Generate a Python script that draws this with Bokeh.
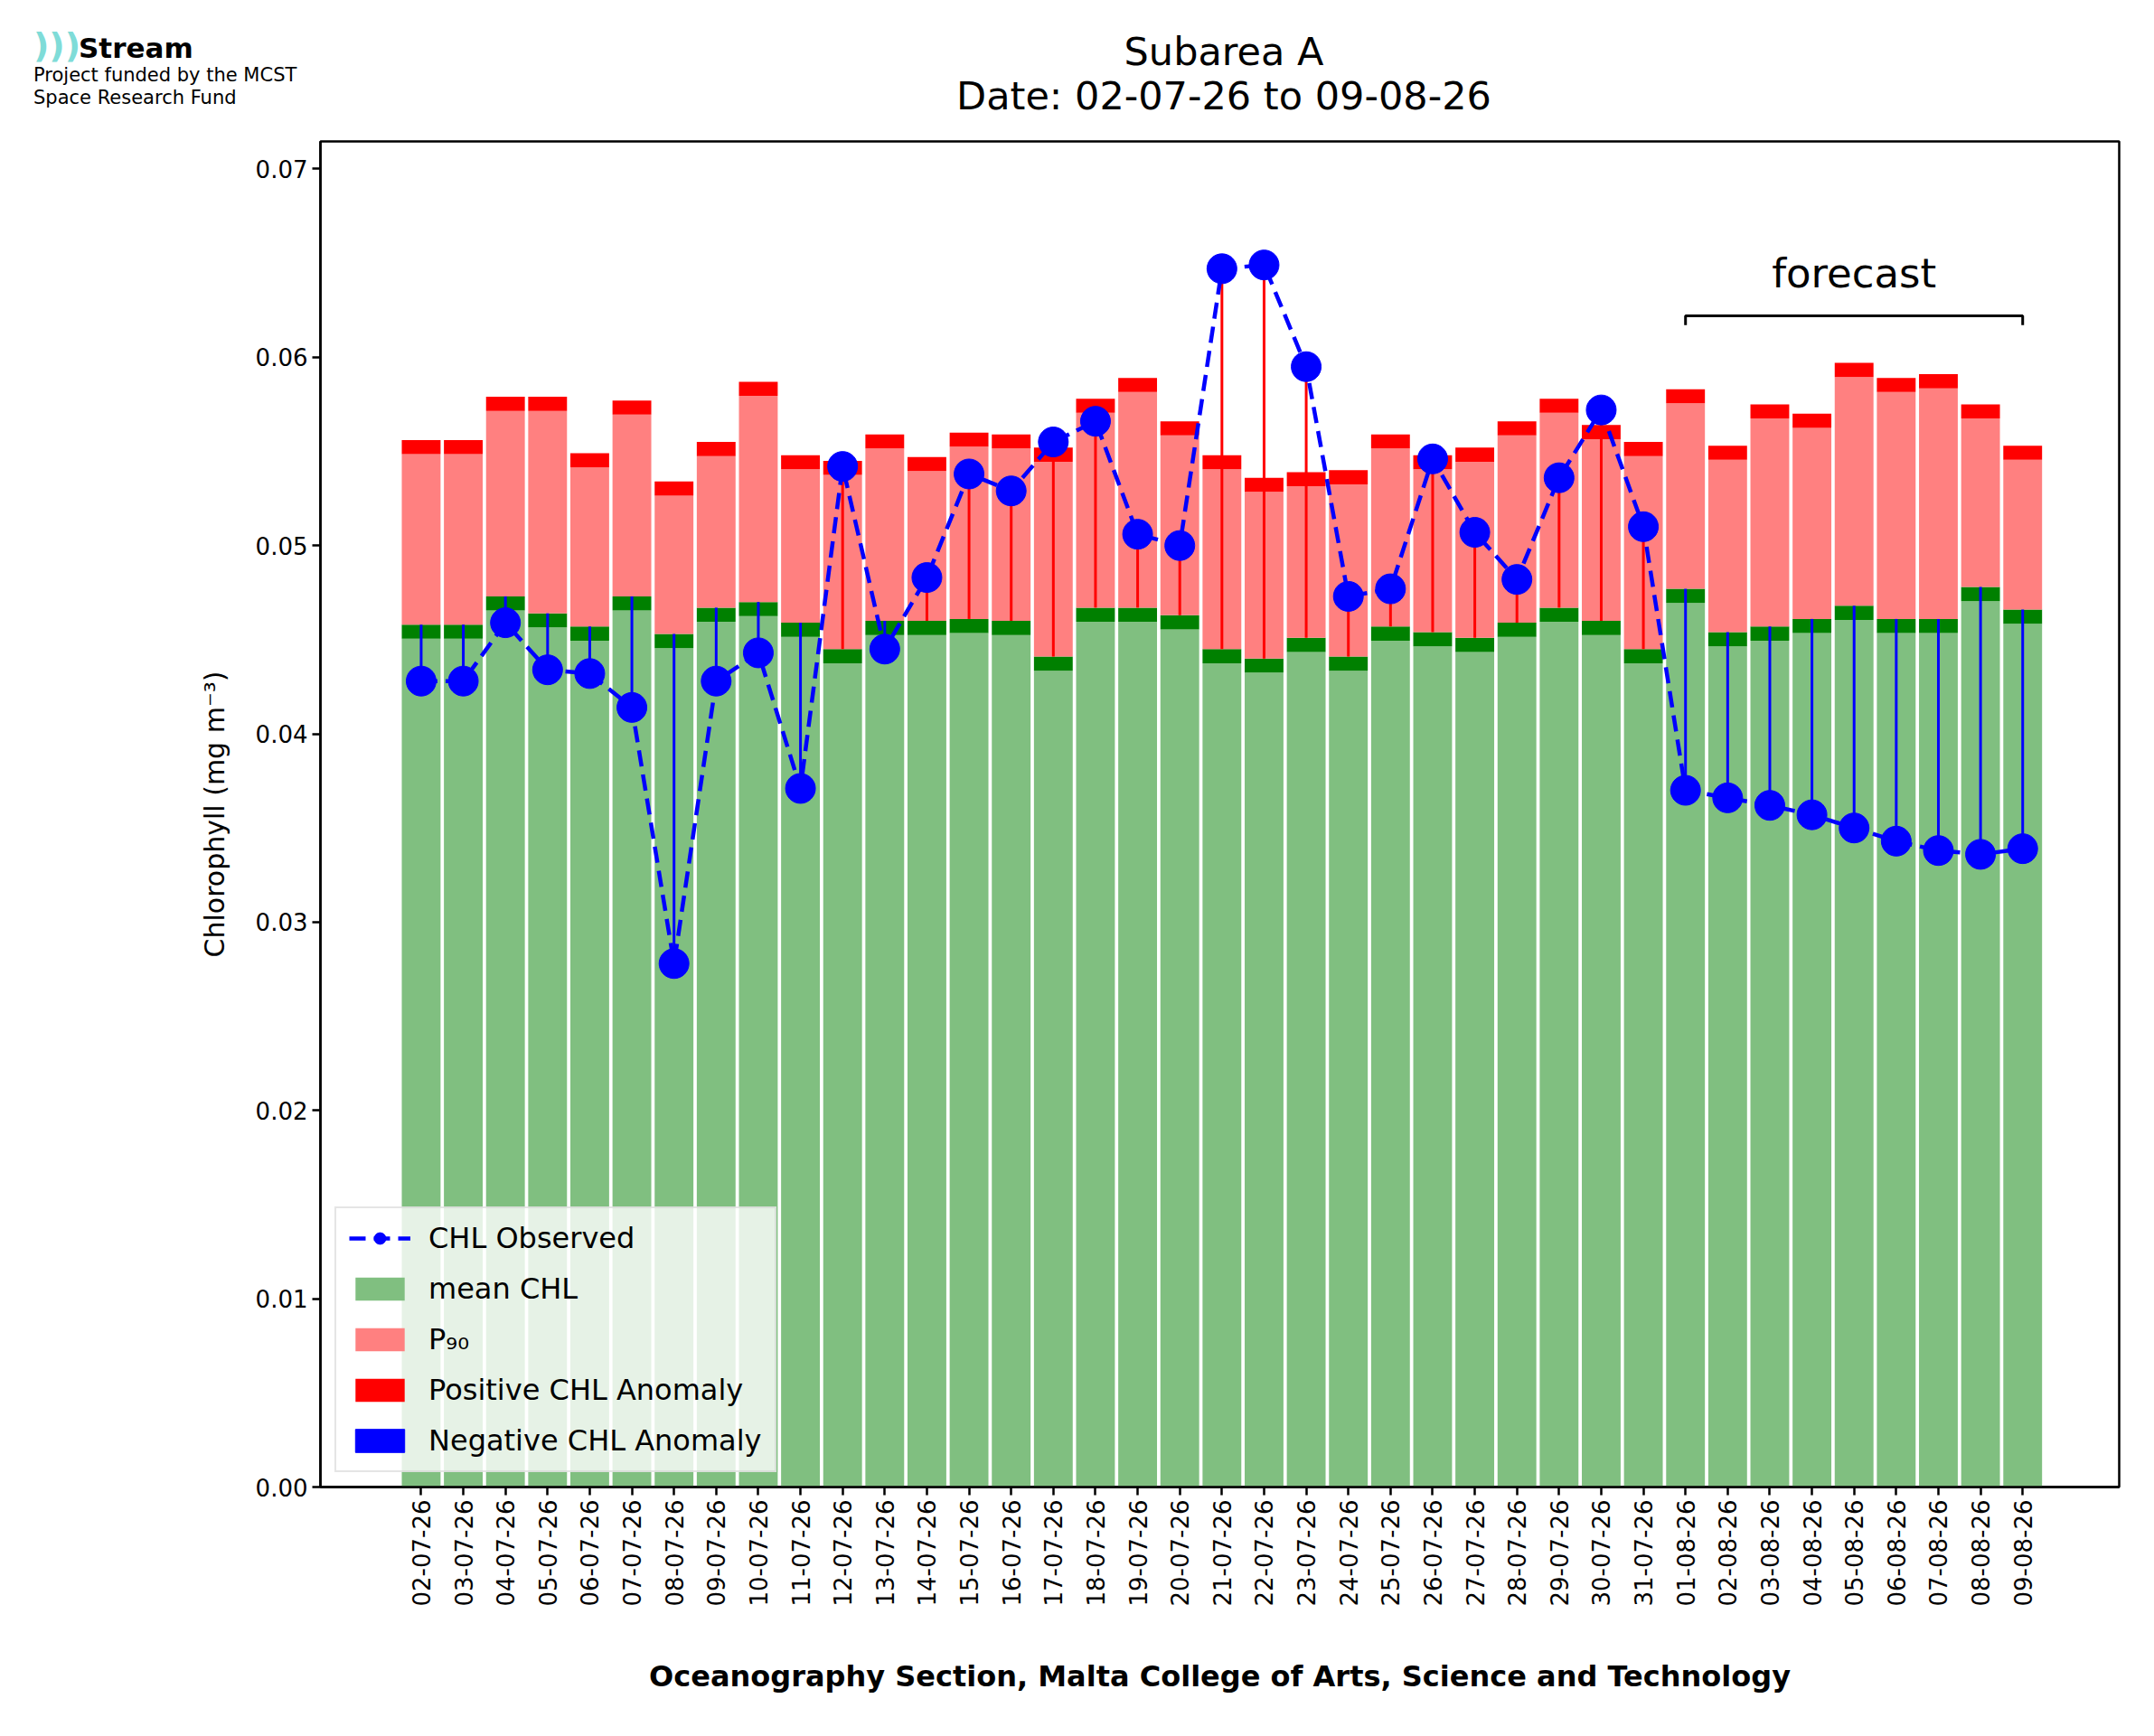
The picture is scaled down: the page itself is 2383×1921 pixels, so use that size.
from bokeh.plotting import figure
from bokeh.layouts import column
from bokeh.models import (ColumnDataSource, FixedTicker, Label, Legend, LegendItem,
                          NumeralTickFormatter, Div)
from bokeh.embed import file_html
from bokeh.resources import INLINE

dates = ["02-07-26", "03-07-26", "04-07-26", "05-07-26", "06-07-26", "07-07-26", "08-07-26",
         "09-07-26", "10-07-26", "11-07-26", "12-07-26", "13-07-26", "14-07-26", "15-07-26",
         "16-07-26", "17-07-26", "18-07-26", "19-07-26", "20-07-26", "21-07-26", "22-07-26",
         "23-07-26", "24-07-26", "25-07-26", "26-07-26", "27-07-26", "28-07-26", "29-07-26",
         "30-07-26", "31-07-26", "01-08-26", "02-08-26", "03-08-26", "04-08-26", "05-08-26",
         "06-08-26", "07-08-26", "08-08-26", "09-08-26"]
mean_chl = [0.0458, 0.0458, 0.0473, 0.0464, 0.0457, 0.0473, 0.0453, 0.0467, 0.0470, 0.0459,
            0.0445, 0.0460, 0.0460, 0.0461, 0.0460, 0.0441, 0.0467, 0.0467, 0.0463, 0.0445,
            0.0440, 0.0451, 0.0441, 0.0457, 0.0454, 0.0451, 0.0459, 0.0467, 0.0460, 0.0445,
            0.0477, 0.0454, 0.0457, 0.0461, 0.0468, 0.0461, 0.0461, 0.0478, 0.0466]
p90 = [0.0556, 0.0556, 0.0579, 0.0579, 0.0549, 0.0577, 0.0534, 0.0555, 0.0587, 0.0548,
       0.0545, 0.0559, 0.0547, 0.0560, 0.0559, 0.0552, 0.0578, 0.0589, 0.0566, 0.0548,
       0.0536, 0.0539, 0.0540, 0.0559, 0.0548, 0.0552, 0.0566, 0.0578, 0.0564, 0.0555,
       0.0583, 0.0553, 0.0575, 0.0570, 0.0597, 0.0589, 0.0591, 0.0575, 0.0553]
observed = [0.0428, 0.0428, 0.0459, 0.0434, 0.0432, 0.0414, 0.0278, 0.0428, 0.0443, 0.0371,
            0.0542, 0.0445, 0.0483, 0.0538, 0.0529, 0.0555, 0.0566, 0.0506, 0.0500, 0.0647,
            0.0649, 0.0595, 0.0473, 0.0477, 0.0546, 0.0507, 0.0482, 0.0536, 0.0572, 0.0510,
            0.0370, 0.0366, 0.0362, 0.0357, 0.0350, 0.0343, 0.0338, 0.0336, 0.0339]
forecast_start, forecast_end = 30, 38
y_ticks = [0.0, 0.01, 0.02, 0.03, 0.04, 0.05, 0.06, 0.07]

band = 0.00075
FONT = "DejaVu Sans"
idx = list(range(len(dates)))
X0, X1, YTOP = -2.39, 40.29, 0.07146

src = ColumnDataSource(dict(
    x=idx, mean=mean_chl, p90=p90, obs=observed,
    mean_lo=[m - band for m in mean_chl],
    p90_lo=[p - band for p in p90],
    stem_col=["red" if o > m else "blue" for o, m in zip(observed, mean_chl)],
))

p = figure(width=2367, height=1767, x_range=(X0, X1), y_range=(0, YTOP),
           output_backend="svg", toolbar_location=None,
           min_border_left=354, min_border_top=8, min_border_right=23, min_border_bottom=270)
p.grid.visible = False
p.outline_line_color = "black"
p.outline_line_width = 2.5
p.background_fill_color = "white"

W = 0.92
r_mean = p.vbar(x="x", width=W, bottom=0, top="mean_lo", source=src, color="#80bf80", line_color=None)
p.vbar(x="x", width=W, bottom="mean_lo", top="mean", source=src, color="#008000", line_color=None)
r_p90 = p.vbar(x="x", width=W, bottom="mean", top="p90_lo", source=src, color="#ff8080", line_color=None)
r_pos = p.vbar(x="x", width=W, bottom="p90_lo", top="p90", source=src, color="#ff0000", line_color=None)

p.segment(x0="x", y0="mean", x1="x", y1="obs", source=src, line_color="stem_col", line_width=3)
r_line = p.line(x="x", y="obs", source=src, line_color="blue", line_width=4.5, line_dash="18 9")
r_dot = p.scatter(x="x", y="obs", source=src, size=33, color="blue")
r_neg = p.vbar(x=[0], width=0, top=[0], color="blue", visible=False)

# forecast bracket
p.line(x=[forecast_start, forecast_start, forecast_end, forecast_end],
       y=[0.0617, 0.0622, 0.0622, 0.0617], line_color="black", line_width=3)
p.add_layout(Label(x=(forecast_start + forecast_end) / 2, y=0.0632, text="forecast",
                   text_align="center", text_font=FONT, text_font_size="45px",
                   text_color="black"))

legend = Legend(items=[
    LegendItem(label="CHL Observed", renderers=[r_line, r_dot]),
    LegendItem(label="mean CHL", renderers=[r_mean]),
    LegendItem(label="P₉₀", renderers=[r_p90]),
    LegendItem(label="Positive CHL Anomaly", renderers=[r_pos]),
    LegendItem(label="Negative CHL Anomaly", renderers=[r_neg]),
], location="bottom_left")
legend.label_text_font = FONT
legend.label_text_font_size = "32px"
legend.label_text_color = "black"
legend.label_standoff = 20
legend.glyph_width = 68
legend.glyph_height = 32
legend.spacing = 18
legend.margin = 16
legend.padding = 14
legend.border_line_color = "#cccccc"
legend.border_line_width = 2
legend.background_fill_alpha = 0.8
p.add_layout(legend)

p.xaxis.ticker = FixedTicker(ticks=idx)
p.xaxis.major_label_overrides = {i: d for i, d in enumerate(dates)}
p.xaxis.major_label_orientation = 1.5708
p.yaxis.ticker = FixedTicker(ticks=y_ticks)
p.yaxis.formatter = NumeralTickFormatter(format="0.00")
for ax in (p.xaxis, p.yaxis):
    ax.major_label_text_font = FONT
    ax.major_label_text_font_size = "26px"
    ax.major_label_text_color = "black"
    ax.major_tick_out = 9
    ax.major_tick_in = 0
    ax.major_tick_line_width = 2.5
    ax.minor_tick_line_color = None
    ax.axis_line_width = 2.5
    ax.axis_label_text_font = FONT
    ax.axis_label_text_color = "black"
    ax.axis_label_text_font_style = "normal"
p.xaxis.axis_label = "Oceanography Section, Malta College of Arts, Science and Technology"
p.xaxis.axis_label_text_font_style = "bold"
p.xaxis.axis_label_text_font_size = "32px"
p.xaxis.axis_label_standoff = 55
p.yaxis.axis_label = "Chlorophyll (mg m⁻³)"
p.yaxis.axis_label_text_font_size = "30px"
p.yaxis.axis_label_standoff = 25

# header: logo and title
header = Div(width=2367, height=138, text=f"""
<div style="position:relative;width:2367px;height:138px;font-family:'{FONT}';color:black;">
  <div style="position:absolute;left:32px;top:18px;font-size:38px;font-weight:bold;color:#7fdcd8;">)))</div>
  <div style="position:absolute;left:82px;top:26px;font-size:31px;font-weight:bold;">Stream</div>
  <div style="position:absolute;left:32px;top:66px;font-size:21px;line-height:25px;">
    Project funded by the MCST<br>Space Research Fund</div>
  <div style="position:absolute;left:354px;width:1990px;top:28px;text-align:center;
              font-size:43px;line-height:49px;">Subarea A<br>Date: 02-07-26 to 09-08-26</div>
</div>""")

open("out.html", "w").write(file_html(column(header, p, spacing=0), INLINE))
